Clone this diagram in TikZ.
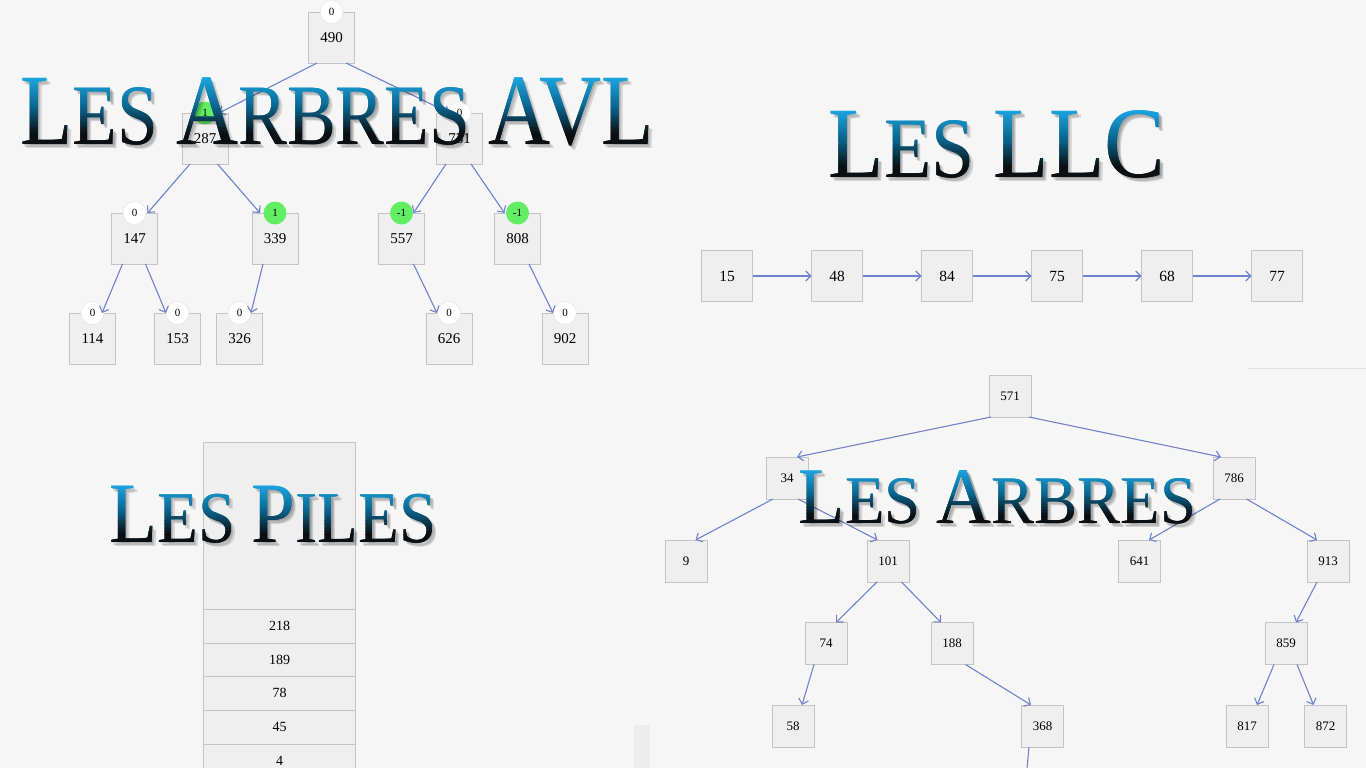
\documentclass[tikz,border=0pt]{standalone}
\usepackage{fontspec}
\setmainfont{Liberation Serif}
\newfontfamily\numfont{Liberation Serif}
\usetikzlibrary{arrows.meta, positioning}

\definecolor{pagebg}{HTML}{F6F6F6}
\definecolor{cellfill}{HTML}{EFEFEF}
\definecolor{cellline}{HTML}{C4C4C4}
\definecolor{linkblue}{HTML}{6E82CF}
\definecolor{okgreen}{HTML}{62EE62}
\definecolor{titletop}{HTML}{1CAAE8}
\definecolor{titlemid}{HTML}{0A6690}
\definecolor{titlebot}{HTML}{0A0F13}

\newcommand\capsz[1]{\fontsize{#1}{#1}\selectfont}

% title texts, big initials and small capitals
\newcommand\txtAVL{\scalebox{.85}[1]{\capsz{101}L\capsz{86}ES \capsz{101}A\capsz{86}RBRES \capsz{101}AVL}}
\newcommand\txtLLC{\scalebox{.9}[1]{\capsz{101}L\capsz{86}ES \capsz{101}LLC}}
\newcommand\txtArbres{\scalebox{.95}[1]{\capsz{80}L\capsz{68}ES \capsz{80}A\capsz{68}RBRES}}
\newcommand\txtPiles{\scalebox{.915}[1]{\capsz{86}L\capsz{73}ES \capsz{86}P\capsz{73}ILES}}

\tikzset{
  title/.style={inner sep=0pt, outer sep=0pt, anchor=base}
}

% #1 name, #2 x, #3 baseline, #4 cap height, #5 text
\newcommand\gradtitle[5]{%
  \foreach \s in {1,2,3}{
    \node[title, text=black, opacity=.13] (#1-shadow\s) at (#2+1.3*\s,-#3-1.6*\s) {#5};
  }
  \foreach \i in {0,...,39}{
    \pgfmathsetmacro\ytop{#3-#4-2+(#4+6)*\i/40}
    \pgfmathsetmacro\ybot{\ytop+(#4+6)/40+0.8}
    \pgfmathtruncatemacro\mixA{min(100,\i*100/17)}
    \pgfmathtruncatemacro\mixB{max(0,min(100,(\i-17)*100/15))}
    \colorlet{bandA}{titlemid!\mixA!titletop}
    \colorlet{bandB}{titlebot!\mixB!bandA}
    \begin{scope}
      \clip (#2-400,-\ytop) rectangle (#2+400,-\ybot);
      \node[title, text=bandB] (#1-\i) at (#2,-#3) {#5};
    \end{scope}
  }
}

\begin{document}
\begin{tikzpicture}[
  x=1pt, y=1pt,
  cell/.style={draw=cellline, fill=cellfill, inner sep=0pt, outer sep=0pt, font=\numfont\capsz{15}},
  avlnode/.style={cell, minimum width=46pt, minimum height=51pt},
  bal/.style={circle, fill=white, draw=black!12, minimum size=23pt, inner sep=0pt, font=\numfont\capsz{11}},
  balhi/.style={bal, fill=okgreen, draw=none},
  llcnode/.style={cell, minimum width=51pt, minimum height=51pt, font=\numfont\capsz{15.5}},
  bstnode/.style={cell, minimum width=42pt, minimum height=42pt, font=\numfont\capsz{13}},
  pilecell/.style={cell, minimum width=152pt, minimum height=33.6pt, font=\numfont\capsz{14}},
  link/.style={draw=linkblue, line width=1.1pt, -{Straight Barb[length=5pt, width=10pt]}}
]

\fill[pagebg] (0,0) rectangle (1366,-768);
\useasboundingbox (0,0) rectangle (1366,-768);
\clip (0,0) rectangle (1366,-768);

% panel edges
\draw[black!12] (1248,-368) -- (1366,-368);
\fill[black!7] (634,-725) rectangle (650,-768);

% AVL tree
\node[avlnode] (a490) at (331.5,-37.5)  {490};
\node[avlnode] (a287) at (205,-138.5)   {287};
\node[avlnode] (a731) at (459.5,-138.5) {731};
\node[avlnode] (a147) at (134.5,-238.5) {147};
\node[avlnode] (a339) at (275,-238.5)   {339};
\node[avlnode] (a557) at (401.5,-238.5) {557};
\node[avlnode] (a808) at (517.5,-238.5) {808};
\node[avlnode] (a114) at (92.5,-338.5)  {114};
\node[avlnode] (a153) at (177.5,-338.5) {153};
\node[avlnode] (a326) at (239.5,-338.5) {326};
\node[avlnode] (a626) at (449,-338.5)   {626};
\node[avlnode] (a902) at (565,-338.5)   {902};

\node[bal]   (b490) at (a490.north) {0};
\node[balhi] (b287) at (a287.north) {1};
\node[bal]   (b731) at (a731.north) {0};
\node[bal]   (b147) at (a147.north) {0};
\node[balhi] (b339) at (a339.north) {1};
\node[balhi] (b557) at (a557.north) {-1};
\node[balhi] (b808) at (a808.north) {-1};
\node[bal]   (b114) at (a114.north) {0};
\node[bal]   (b153) at (a153.north) {0};
\node[bal]   (b326) at (a326.north) {0};
\node[bal]   (b626) at (a626.north) {0};
\node[bal]   (b902) at (a902.north) {0};

\draw[link] ([xshift=-14.5pt]a490.south) -- ([xshift=14pt]a287.north);
\draw[link] ([xshift=14.5pt]a490.south) -- ([xshift=-10pt]a731.north);
\draw[link] ([xshift=-15pt]a287.south) -- ([xshift=13pt]a147.north);
\draw[link] ([xshift=12.5pt]a287.south) -- ([xshift=-15pt]a339.north);
\draw[link] ([xshift=-13.5pt]a731.south) -- ([xshift=12pt]a557.north);
\draw[link] ([xshift=11.5pt]a731.south) -- ([xshift=-13pt]a808.north);
\draw[link] ([xshift=-12pt]a147.south) -- ([xshift=9.5pt]a114.north);
\draw[link] ([xshift=11pt]a147.south) -- ([xshift=-11.5pt]a153.north);
\draw[link] ([xshift=-12pt]a339.south) -- ([xshift=11.5pt]a326.north);
\draw[link] ([xshift=12pt]a557.south) -- ([xshift=-12pt]a626.north);
\draw[link] ([xshift=11.5pt]a808.south) -- ([xshift=-12pt]a902.north);

% linked list
\node[llcnode] (l15) at (727,-276) {15};
\node[llcnode, right=59pt of l15] (l48) {48};
\node[llcnode, right=59pt of l48] (l84) {84};
\node[llcnode, right=59pt of l84] (l75) {75};
\node[llcnode, right=59pt of l75] (l68) {68};
\node[llcnode, right=59pt of l68] (l77) {77};

\draw[link] (l15) -- (l48);
\draw[link] (l48) -- (l84);
\draw[link] (l84) -- (l75);
\draw[link] (l75) -- (l68);
\draw[link] (l68) -- (l77);

% stack
\node[cell, minimum width=152pt, minimum height=167.3pt] (ptop) at (279.5,-525.7) {};
\node[pilecell, below=0pt of ptop] (p218) {218};
\node[pilecell, below=0pt of p218] (p189) {189};
\node[pilecell, below=0pt of p189] (p78)  {78};
\node[pilecell, below=0pt of p78]  (p45)  {45};
\node[pilecell, below=0pt of p45]  (p4)   {4};

% binary search tree
\node[bstnode] (t571) at (1010,-396)    {571};
\node[bstnode] (t34)  at (787,-478)     {34};
\node[bstnode] (t786) at (1234,-478)    {786};
\node[bstnode] (t9)   at (686,-561)     {9};
\node[bstnode] (t101) at (888,-561)     {101};
\node[bstnode] (t641) at (1139.5,-561)  {641};
\node[bstnode] (t913) at (1328,-561)    {913};
\node[bstnode] (t74)  at (826,-643.5)   {74};
\node[bstnode] (t188) at (952,-643.5)   {188};
\node[bstnode] (t859) at (1286,-643.5)  {859};
\node[bstnode] (t58)  at (793,-726)     {58};
\node[bstnode] (t368) at (1042.5,-726)  {368};
\node[bstnode] (t817) at (1247,-726)    {817};
\node[bstnode] (t872) at (1325.5,-726)  {872};
\coordinate (t368kid) at (1025,-790);

\draw[link] ([xshift=-19pt]t571.south) -- ([xshift=10pt]t34.north);
\draw[link] ([xshift=19pt]t571.south) -- ([xshift=-13pt]t786.north);
\draw[link] ([xshift=-14pt]t34.south) -- ([xshift=9.5pt]t9.north);
\draw[link] ([xshift=11pt]t34.south) -- ([xshift=-10.5pt]t101.north);
\draw[link] ([xshift=-14pt]t786.south) -- ([xshift=9.5pt]t641.north);
\draw[link] ([xshift=12.5pt]t786.south) -- ([xshift=-11pt]t913.north);
\draw[link] ([xshift=-11pt]t101.south) -- ([xshift=10pt]t74.north);
\draw[link] ([xshift=13.5pt]t101.south) -- ([xshift=-11pt]t188.north);
\draw[link] ([xshift=-12pt]t74.south) -- ([xshift=9pt]t58.north);
\draw[link] ([xshift=13.5pt]t188.south) -- ([xshift=-11.5pt]t368.north);
\draw[link] ([xshift=-11pt]t913.south) -- ([xshift=10pt]t859.north);
\draw[link] ([xshift=-12pt]t859.south) -- ([xshift=10pt]t817.north);
\draw[link] ([xshift=11pt]t859.south) -- ([xshift=-12pt]t872.north);
\draw[link] ([xshift=-13.5pt]t368.south) -- (t368kid);

% titles: soft shadow, then blue-to-black text
\gradtitle{avl}{337}{144}{67}{\txtAVL}
\gradtitle{llc}{997}{177}{68}{\txtLLC}
\gradtitle{arbres}{997.5}{523}{53}{\txtArbres}
\gradtitle{piles}{273}{542}{57}{\txtPiles}

\end{tikzpicture}
\end{document}
